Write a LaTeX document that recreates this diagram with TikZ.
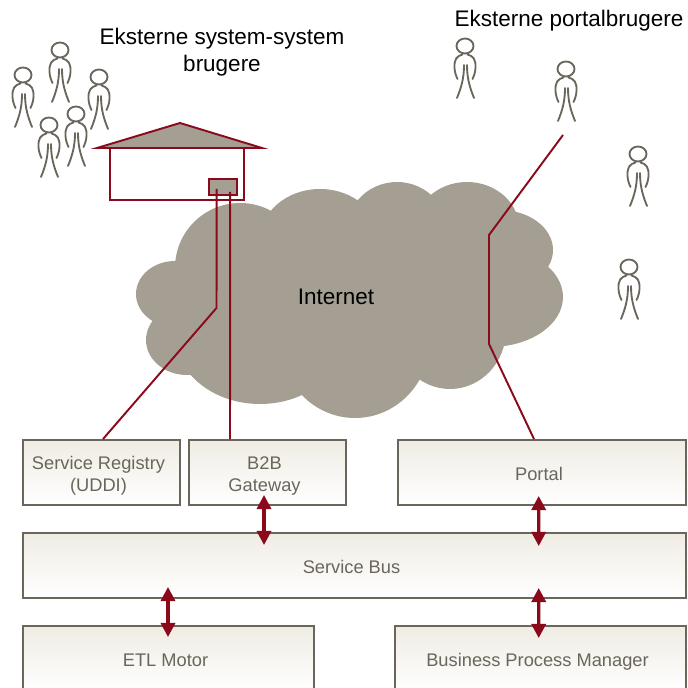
\documentclass[tikz,border=0pt]{standalone}
\usepackage{fontspec}
\setmainfont{Liberation Sans}
\usetikzlibrary{arrows.meta}
\definecolor{cloudgray}{HTML}{A49F92}
\definecolor{linkred}{HTML}{8A0A1C}
\definecolor{boxgray}{HTML}{6B665C}
\definecolor{boxtop}{HTML}{EFECE3}
\tikzset{
	titletext/.style={align=center,text=black,font=\fontsize{12.8pt}{15.2pt}\selectfont,inner sep=0pt},
	layerbox/.style={draw=boxgray,line width=1.1pt,top color=boxtop,bottom color=white,
		inner sep=0pt,minimum height=65*0.02cm},
	boxtext/.style={text=boxgray,align=center,inner sep=0pt,text height=8.5pt,text depth=0pt,
		xshift=-3*0.02cm,yshift=-0.02cm,font=\fontsize{10.4pt}{13pt}\selectfont},
	twolines/.style={boxtext,text height=21pt},
	link/.style={draw=linkred,line width=1.1pt},
	biarrow/.style={draw=linkred,line width=1.8pt,{Triangle[length=8pt,width=8pt]}-{Triangle[length=8pt,width=8pt]}},
	person/.pic={
		\draw[draw=boxgray,line width=1.05pt,line cap=round] (0,0) ellipse (8.5 and 7.5)
		(-2.5,8.5) .. controls (-8,10) and (-11,13) .. (-10.5,22) .. controls (-10.3,26) and (-9,30) .. (-7.5,33)
		(2.5,8.5) .. controls (8,10) and (11,13) .. (10.5,22) .. controls (10.3,26) and (9,30) .. (7.5,33)
		(-1,19) .. controls (-1,33) and (-4,42) .. (-8,52)
		(2,19) .. controls (2,33) and (5,42) .. (9,52);
	}
}
\begin{document}
\begin{tikzpicture}[x=0.02cm,y=-0.02cm]
	\useasboundingbox (0,0) rectangle (687,688);
	\clip (0,0) rectangle (687,688);

	%cloud
	\fill[cloudgray] \foreach \cx/\cy/\rx/\ry in {240/268/65/65,175/294/39/33,187/340/41/35,260/335/85/69,
		355/340/75/78,450/330/56/59,490/297/73/50,500/250/53/40,467/228/52/46,397/230/50/48,320/240/60/51,
		340/290/130/90} {(\cx,\cy) ellipse [x radius=\rx,y radius=\ry]};
	\node[titletext] (internet) at (336,297) {Internet};

	%people
	\foreach \px/\py in {60/50,23/75,99/77,76/114,49/125,465/46,566/69,638/154,629/267}
		\pic at (\px,\py) {person};
	\node[titletext] (systitle) at (222,52) {Eksterne system-system\\brugere};
	\node[titletext] (portaltitle) at (569,21) {Eksterne portalbrugere};

	%house
	\draw[link,fill=cloudgray] (97,148) -- (180,123) -- (262,148) -- cycle;
	\node[draw=linkred,line width=1.1pt,minimum width=133.5*0.02cm,minimum height=52*0.02cm,inner sep=0pt] (house) at (177.2,174) {};
	\node[draw=linkred,line width=1.1pt,fill=cloudgray,minimum width=27.5*0.02cm,minimum height=16*0.02cm,inner sep=0pt] (gate) at (223.2,187) {};

	%layers
	\node[layerbox,minimum width=157*0.02cm,label={[twolines]center:{Service Registry\\(UDDI)}}] (registry) at (101.5,472.5) {};
	\node[layerbox,minimum width=157*0.02cm,label={[twolines]center:{B2B\\Gateway}}] (b2b) at (267.5,472.5) {};
	\node[layerbox,minimum width=288*0.02cm,label={[boxtext]center:Portal}] (portal) at (542,472.5) {};
	\node[layerbox,minimum width=663*0.02cm,label={[boxtext]center:Service Bus}] (bus) at (354.5,565.5) {};
	\node[layerbox,minimum width=291*0.02cm,label={[boxtext]center:ETL Motor}] (etl) at (168.5,658.5) {};
	\node[layerbox,minimum width=291*0.02cm,label={[boxtext]center:Business Process Manager}] (bpm) at (540.5,658.5) {};

	%connections
	\coordinate (regbend) at (216.5,308);
	\coordinate (portaluser) at (563,135);
	\coordinate (portalbenda) at (489,235);
	\coordinate (portalbendb) at (489,344);
	\draw[link] ([shift={(-6.5,2)}]gate.center) -- (regbend) -- ([xshift=1.5*0.02cm]registry.north);
	\draw[link] ([shift={(7,5)}]gate.center) -- ([xshift=-37.5*0.02cm]b2b.north);
	\draw[link] (portaluser) -- (portalbenda) -- (portalbendb) -- ([xshift=-8*0.02cm]portal.north);

	\draw[biarrow] ([shift={(-3.5,-11)}]b2b.south) -- ([shift={(-90.5,13)}]bus.north);
	\draw[biarrow] ([shift={(-3.3,-10)}]portal.south) -- ([shift={(184.2,14)}]bus.north);
	\draw[biarrow] ([shift={(-186.5,-12)}]bus.south) -- ([shift={(-0.5,12)}]etl.north);
	\draw[biarrow] ([shift={(184.2,-11)}]bus.south) -- ([shift={(-1.8,13)}]bpm.north);
\end{tikzpicture}
\end{document}
